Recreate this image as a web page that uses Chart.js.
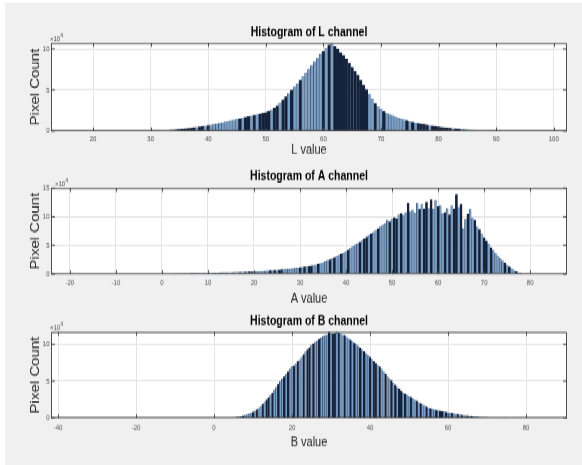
<!DOCTYPE html>
<html><head><meta charset="utf-8">
<script src="https://cdn.jsdelivr.net/npm/chart.js@4/dist/chart.umd.min.js"></script>
<style>
html,body{margin:0;padding:0;width:582px;height:465px;overflow:hidden;background:#ffffff;}
#bg{position:absolute;left:5px;top:3px;width:577px;height:462px;background:#f0f0f0;}
#wrap{position:absolute;left:0;top:0;width:618px;height:372px;transform:scaleY(1.25);transform-origin:0 0;}
canvas{position:absolute;left:0;top:0;}
</style></head><body>
<div id="bg"></div>
<div id="wrap">
<canvas id="cL" width="618" height="372" style="width:618px;height:372px"></canvas>
<canvas id="cA" width="618" height="372" style="width:618px;height:372px"></canvas>
<canvas id="cB" width="618" height="372" style="width:618px;height:372px"></canvas>
</div>
<script>
// ---------- DATA (pixel counts in units of 10^4, one value per 0.5-wide bin) ----------
const binStep = 0.5;

const lStart = 30.0;
const lCounts = [
 0.00,0.01,0.02,0.05,0.08,0.10,0.12,0.15,0.18,0.21,
 0.25,0.28,0.32,0.36,0.40,0.45,0.50,0.55,0.60,0.65,
 0.70,0.78,0.85,0.92,1.00,1.07,1.15,1.22,1.30,1.37,
 1.45,1.52,1.60,1.70,1.80,1.88,1.95,2.02,2.10,2.20,
 2.30,2.45,2.60,2.85,3.10,3.45,3.80,4.20,4.60,5.00,
 5.40,5.80,6.20,6.65,7.10,7.55,8.00,8.45,8.90,9.40,
 9.70,10.10,10.50,10.65,10.30,10.00,9.60,9.20,8.80,8.30,
 7.80,7.30,6.80,6.20,5.60,5.05,4.50,3.95,3.40,3.00,
 2.70,2.45,2.20,2.05,1.90,1.77,1.65,1.52,1.40,1.30,
 1.20,1.12,1.05,0.97,0.90,0.84,0.78,0.71,0.65,0.60,
 0.55,0.50,0.45,0.41,0.38,0.34,0.30,0.27,0.25,0.22,
 0.20,0.17,0.15,0.12,0.10,0.08,0.06,0.04,0.03,0.01
];

const aStart = 0.0;
const aCounts = [
 0.00,0.02,0.08,0.10,0.12,0.12,0.13,0.14,0.14,0.15,
 0.16,0.16,0.17,0.18,0.19,0.19,0.20,0.21,0.22,0.23,
 0.24,0.25,0.26,0.27,0.28,0.28,0.29,0.30,0.31,0.32,
 0.33,0.34,0.35,0.36,0.37,0.38,0.39,0.40,0.42,0.43,
 0.45,0.48,0.50,0.52,0.55,0.58,0.60,0.63,0.66,0.70,
 0.72,0.76,0.80,0.84,0.88,0.93,0.98,1.03,1.08,1.12,
 1.18,1.22,1.28,1.33,1.40,1.46,1.55,1.65,1.78,1.92,
 2.05,2.20,2.38,2.55,2.75,2.95,3.15,3.35,3.55,3.75,
 3.95,4.25,4.55,4.85,5.10,5.35,5.60,5.90,6.20,6.50,
 6.80,7.05,7.35,7.70,7.95,8.30,8.60,8.85,9.40,9.15,
 9.60,9.90,9.70,10.40,10.60,10.30,10.80,12.40,10.90,11.20,
 10.70,12.40,11.30,12.20,11.40,12.60,11.50,13.00,11.40,12.90,
 11.80,12.00,10.60,10.80,11.50,10.40,12.00,11.40,13.90,11.70,
 12.20,8.00,9.60,10.50,11.30,9.80,9.40,8.30,7.80,7.00,
 6.40,5.80,5.30,4.70,4.20,3.70,3.20,2.80,2.40,2.00,
 1.60,1.30,1.00,0.75,0.50,0.32,0.20,0.10,0.05,0.02
];

const bStart = 1.0;
const bCounts = [
 0.01,0.02,0.02,0.03,0.04,0.05,0.06,0.08,0.10,0.13,
 0.16,0.20,0.25,0.32,0.40,0.50,0.62,0.72,0.85,1.00,
 1.15,1.35,1.60,1.90,2.20,2.50,2.80,3.10,3.40,3.80,
 4.20,4.60,5.00,5.30,5.60,5.95,6.30,6.70,7.00,7.10,
 7.40,7.70,7.90,8.30,8.60,9.00,9.30,9.60,9.90,10.10,
 10.30,10.50,10.70,10.90,11.10,11.20,11.30,11.70,11.50,11.40,
 11.50,11.80,11.60,11.40,11.30,11.20,11.00,10.80,10.60,10.40,
 10.20,10.00,9.80,9.55,9.30,9.05,8.80,8.55,8.30,8.00,
 7.70,7.45,7.20,6.95,6.70,6.35,6.00,5.70,5.40,5.10,
 4.80,4.50,4.20,3.95,3.70,3.50,3.30,3.15,3.00,2.85,
 2.70,2.50,2.35,2.15,2.00,1.85,1.70,1.55,1.40,1.32,
 1.25,1.17,1.10,1.05,1.00,0.95,0.90,0.85,0.80,0.75,
 0.70,0.64,0.58,0.52,0.47,0.43,0.40,0.36,0.33,0.30,
 0.27,0.23,0.20,0.17,0.15,0.13,0.12,0.10,0.09,0.08,
 0.07,0.06,0.05,0.04,0.03,0.03,0.02,0.02,0.01,0.01
];

// tick labels
const lXTicks = [20,30,40,50,60,70,80,90,100];
const aXTicks = [-20,-10,0,10,20,30,40,50,60,70,80];
const bXTicks = [-40,-20,0,20,40,60,80];
const lYTicks = [0,5,10];
const aYTicks = [0,5,10,15];
const bYTicks = [0,5,10];

// titles
const titles = ['Histogram of L channel','Histogram of A channel','Histogram of B channel'];
const xTitles = ['L value','A value','B value'];
const yTitle = 'Pixel Count';
const expLabel = ['\u00d710','4'];

// ---------- STYLE ----------
const FONT = "'Liberation Sans',Arial,Helvetica,sans-serif";
const DARK = '#13213a', LIGHT = '#7a9ec4';

// shade pattern (visual texture only): share of dark bars varies along x
function shadeFor(p) {
  return ctx => {
    const i = ctx.dataIndex;
    const x = p.start + i * binStep;
    const dens = p.shade(x);
    const f = (i * 0.6180339887) % 1;
    return f < dens ? DARK : LIGHT;
  };
}

const frame = {
  id: 'frame',
  beforeDraw(chart) {
    const a = chart.chartArea, c = chart.ctx;
    c.save(); c.fillStyle = '#ffffff';
    c.fillRect(a.left, a.top, a.right - a.left, a.bottom - a.top);
    c.restore();
  },
  afterDatasetsDraw(chart, args, opts) {
    const a = chart.chartArea, c = chart.ctx;
    const xs = chart.scales.x, ys = chart.scales.y;
    c.save();
    c.strokeStyle = '#3c3c3c'; c.lineWidth = 0.9;
    c.strokeRect(a.left + 0.5, a.top + 0.4, a.right - a.left - 1, a.bottom - a.top - 0.8);
    c.beginPath();
    xs.ticks.forEach(t => {
      const p = Math.round(xs.getPixelForValue(t.value)) + 0.5;
      c.moveTo(p, a.bottom); c.lineTo(p, a.bottom - 3);
      c.moveTo(p, a.top); c.lineTo(p, a.top + 3);
    });
    ys.ticks.forEach(t => {
      const p = ys.getPixelForValue(t.value);
      c.moveTo(a.left, p); c.lineTo(a.left + 4, p);
      c.moveTo(a.right, p); c.lineTo(a.right - 4, p);
    });
    c.stroke();
    // exponent label
    c.fillStyle = '#4d4d4d';
    c.textBaseline = 'alphabetic'; c.textAlign = 'left';
    c.font = '6px ' + FONT;
    const ex = a.left + opts.expDx, ey = a.top - 1.6;
    c.fillText(expLabel[0], ex, ey);
    const w = c.measureText(expLabel[0]).width;
    c.font = '4.5px ' + FONT;
    c.fillText(expLabel[1], ex + w + 0.4, ey - 2.6);
    c.restore();
  }
};

function makeChart(id, p) {
  const table = p.counts.map((v, i) => ({x: p.start + i * binStep, y: v}));
  const xAxisH = p.xTitleMid - p.bottom + 6.6;
  return new Chart(document.getElementById(id), {
    type: 'bar',
    data: { datasets: [{
      data: table,
      backgroundColor: shadeFor(p),
      borderColor: '#1a2a44',
      borderWidth: {left: 0.55, right: 0, top: 0, bottom: 0},
      borderSkipped: false,
      barPercentage: 1, categoryPercentage: 1
    }]},
    options: {
      responsive: false, animation: false, devicePixelRatio: 1,
      layout: { padding: {left: 0, right: 0, top: 0, bottom: 372 - p.bottom - xAxisH} },
      plugins: {
        legend: {display: false}, tooltip: {enabled: false},
        title: { display: true, text: p.title, color: '#000000',
          font: {family: FONT, size: 10.5, weight: 'bold'},
          padding: {top: p.titleMid - 6.3, bottom: p.top - (p.titleMid - 6.3) - 12.6} },
        frame: { expDx: p.expDx }
      },
      scales: {
        x: {
          type: 'linear', min: p.xMin, max: p.xMax, offset: false,
          afterBuildTicks: s => { s.ticks = p.xTicks.map(v => ({value: v})); },
          afterFit: s => { s.height = xAxisH; },
          grid: {color: '#e4e4e4', drawTicks: false, offset: false},
          border: {display: false},
          ticks: {autoSkip: false, maxRotation: 0, padding: p.tickMid - p.bottom - 3.6,
            color: '#4d4d4d', font: {family: FONT, size: 6}, callback: v => String(v)},
          title: {display: true, text: p.xTitle, color: '#262626',
            font: {family: FONT, size: 11}, padding: {top: 0, bottom: 0}}
        },
        y: {
          position: 'left', min: 0, max: p.yMax,
          afterBuildTicks: s => { s.ticks = p.yTicks.map(v => ({value: v})); },
          afterFit: s => { s.width = 51; },
          grid: {color: '#e4e4e4', drawTicks: false},
          border: {display: false},
          ticks: {padding: 1.5, color: '#4d4d4d', font: {family: FONT, size: 6}, callback: v => String(v)},
          title: {display: true, text: yTitle, color: '#262626',
            font: {family: FONT, size: 12}, padding: {top: 28.3, bottom: 0}}
        },
        yr: {
          position: 'right', min: 0, max: 1,
          afterFit: s => { s.width = 51; },
          grid: {display: false}, border: {display: false}, ticks: {display: false}
        }
      }
    },
    plugins: [frame]
  });
}

makeChart('cL', {counts: lCounts, start: lStart, xMin: 12.7, xMax: 102.3, yMax: 10.7,
  xTicks: lXTicks, yTicks: lYTicks, title: titles[0], xTitle: xTitles[0],
  top: 34.4, bottom: 104.8, titleMid: 26.6, tickMid: 111.8, xTitleMid: 120.2, expDx: -1,
  shade: x => 0.5 + 0.45 * Math.cos(2 * Math.PI * (x - 65) / 14.5)});
makeChart('cA', {counts: aCounts, start: aStart, xMin: -24.1, xMax: 88, yMax: 15,
  xTicks: aXTicks, yTicks: aYTicks, title: titles[1], xTitle: xTitles[1],
  top: 150.4, bottom: 219.2, titleMid: 141.2, tickMid: 226.4, xTitleMid: 239.0, expDx: 4,
  shade: x => 0.38 + 0.2 * Math.cos(2 * Math.PI * (x - 51) / 6.5)});
makeChart('cB', {counts: bCounts, start: bStart, xMin: -41.8, xMax: 90.5, yMax: 11.65,
  xTicks: bXTicks, yTicks: bYTicks, title: titles[2], xTitle: xTitles[2],
  top: 265.6, bottom: 334.4, titleMid: 257.6, tickMid: 342.4, xTitleMid: 354.2, expDx: -1,
  shade: x => 0.42 + 0.15 * Math.cos(2 * Math.PI * (x - 31) / 9)});
</script>
</body></html>
